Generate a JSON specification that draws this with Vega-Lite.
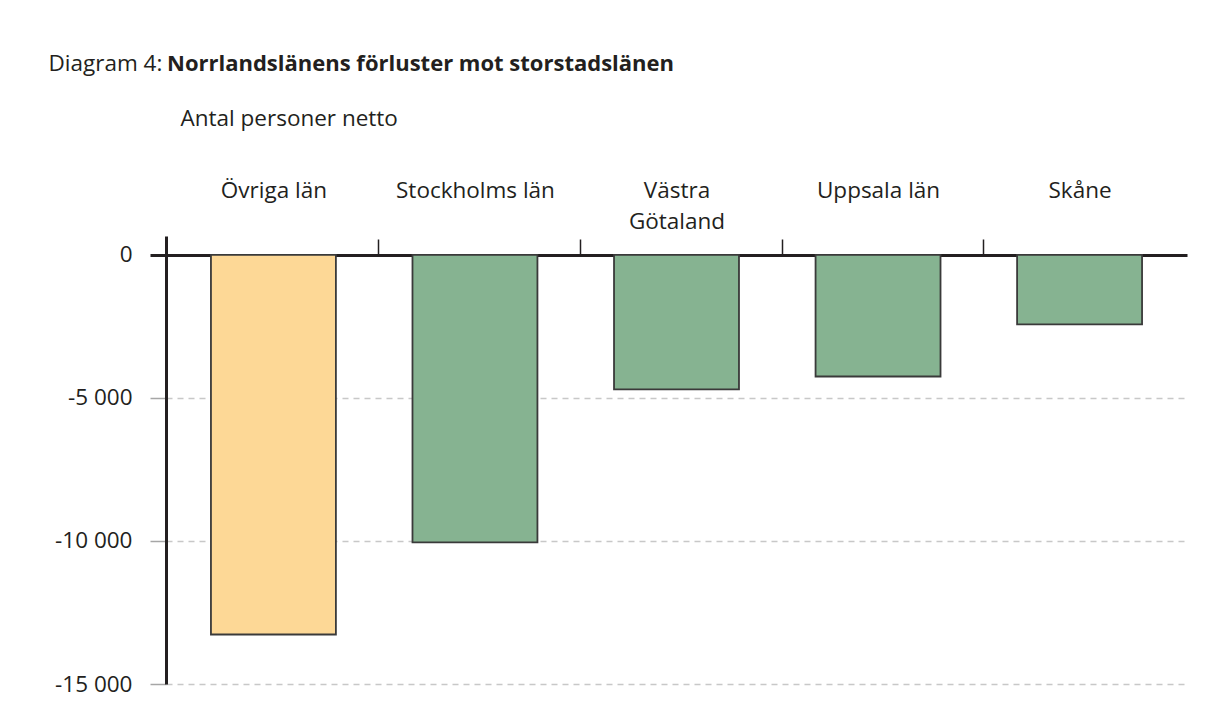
{
  "$schema": "https://vega.github.io/schema/vega-lite/v6.json",
  "width": 1021,
  "height": 448,
  "autosize": "none",
  "padding": {"left": 166, "top": 236, "right": 27, "bottom": 44},
  "background": "white",
  "config": {"view": {"stroke": null}, "font": "Open Sans"},
  "title": {
    "text": "Norrlandslänens förluster mot storstadslänen",
    "anchor": "start",
    "frame": "group",
    "font": "Open Sans",
    "fontSize": 22,
    "fontWeight": "bold",
    "color": "#231f20",
    "dx": 1,
    "dy": 28
  },
  "data": {
    "values": [
      {"lan": "Övriga län", "netto": -13270, "grupp": "Övriga"},
      {"lan": "Stockholms län", "netto": -10050, "grupp": "Storstad"},
      {"lan": "Västra Götaland", "netto": -4700, "grupp": "Storstad"},
      {"lan": "Uppsala län", "netto": -4250, "grupp": "Storstad"},
      {"lan": "Skåne", "netto": -2430, "grupp": "Storstad"}
    ]
  },
  "mark": {"type": "bar", "stroke": "#3a3a3a", "strokeWidth": 1.8},
  "encoding": {
    "x": {
      "field": "lan",
      "type": "nominal",
      "sort": null,
      "scale": {"paddingInner": 0.38, "paddingOuter": 0.223},
      "axis": {
        "orient": "top",
        "offset": -19,
        "title": "Antal personer netto",
        "titleX": 14,
        "titleY": -130,
        "titleAlign": "left",
        "titleAnchor": "start",
        "titleBaseline": "alphabetic",
        "titleFont": "Open Sans",
        "titleFontSize": 22.5,
        "titleFontWeight": "normal",
        "titleColor": "#231f20",
        "domain": true,
        "domainColor": "#231f20",
        "domainWidth": 3,
        "ticks": true,
        "tickSize": 16,
        "tickWidth": 1.5,
        "tickColor": "#231f20",
        "tickOffset": 105,
        "tickOpacity": {"condition": {"test": "datum.value == 'Skåne'", "value": 0}, "value": 1},
        "labelOffset": -105,
        "labelPadding": 60,
        "labelBaseline": "top",
        "labelFont": "Open Sans",
        "labelFontSize": 22.5,
        "labelColor": "#231f20",
        "labelLineHeight": 31,
        "labelAngle": 0,
        "labelOverlap": false,
        "labelBound": false,
        "labelExpr": "datum.value == 'Västra Götaland' ? ['Västra', 'Götaland'] : datum.value",
        "grid": false
      }
    },
    "y": {
      "field": "netto",
      "type": "quantitative",
      "scale": {"domain": [-15000, 663], "nice": false},
      "axis": {
        "orient": "left",
        "values": [0, -5000, -10000, -15000],
        "title": "Diagram 4:",
        "titleAngle": 0,
        "titleX": -118,
        "titleY": -166,
        "titleAlign": "left",
        "titleAnchor": "start",
        "titleBaseline": "alphabetic",
        "titleFont": "Open Sans",
        "titleFontSize": 22.5,
        "titleFontWeight": "normal",
        "titleColor": "#231f20",
        "domainColor": "#231f20",
        "domainWidth": 3,
        "tickSize": 16,
        "tickColor": {"condition": {"test": "datum.value == 0", "value": "#231f20"}, "value": "#a6a6a6"},
        "tickWidth": {"condition": {"test": "datum.value == 0", "value": 3}, "value": 1.5},
        "labelPadding": 18,
        "labelFont": "Open Sans",
        "labelFontSize": 22.5,
        "labelColor": "#231f20",
        "labelExpr": "datum.value == 0 ? '0' : '-' + format(abs(datum.value) / 1000, 'd') + ' 000'",
        "grid": true,
        "gridColor": "#c8c8c8",
        "gridDash": [6, 5],
        "gridWidth": 1.5
      }
    },
    "color": {
      "field": "grupp",
      "type": "nominal",
      "scale": {"domain": ["Övriga", "Storstad"], "range": ["#fdd896", "#86b391"]},
      "legend": null
    }
  }
}
